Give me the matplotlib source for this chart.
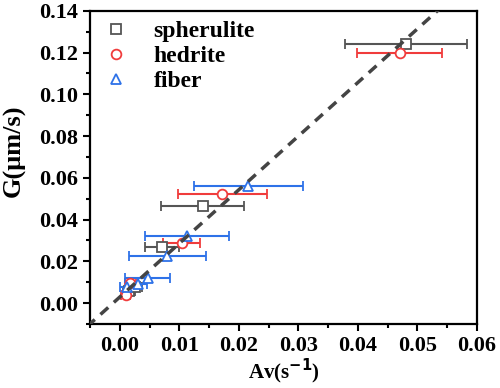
import numpy as np
import matplotlib
matplotlib.use("Agg")
import matplotlib.pyplot as plt
from matplotlib.lines import Line2D

plt.rcParams['font.family'] = ['Liberation Serif', 'DejaVu Serif']
plt.rcParams['font.weight'] = 'bold'
plt.rcParams['mathtext.fontset'] = 'custom'
plt.rcParams['mathtext.rm'] = 'Liberation Serif:bold'

# spherulite
sph_x = [0.0015, 0.0025, 0.0071, 0.0139, 0.0481]
sph_y = [0.006, 0.0075, 0.027, 0.0463, 0.124]
sph_err = [0.0010, 0.0012, 0.0029, 0.0069, 0.0102]

# hedrite
hed_x = [0.0010, 0.0018, 0.0104, 0.0172, 0.0470]
hed_y = [0.004, 0.0095, 0.0287, 0.0525, 0.120]
hed_err = [0.0008, 0.0010, 0.0031, 0.0075, 0.0072]

# fiber
fib_x = [0.0012, 0.0030, 0.0047, 0.0080, 0.0113, 0.0216]
fib_y = [0.0075, 0.0090, 0.0118, 0.0227, 0.0323, 0.0563]
fib_err = [0.0012, 0.0015, 0.0038, 0.0065, 0.0071, 0.0091]

# fitted line
fit_slope = 2.57
fit_icpt = 0.0029

fig = plt.figure(figsize=(5.0, 3.88), dpi=100)
ax = fig.add_axes([0.18, 0.165, 0.774, 0.807])

series = [
    (sph_x, sph_y, sph_err, 's', '#555555', 'spherulite'),
    (hed_x, hed_y, hed_err, 'o', '#f03c3c', 'hedrite'),
    (fib_x, fib_y, fib_err, '^', '#2e72e8', 'fiber'),
]
handles = []
for x, y, e, m, c, lab in series:
    ax.errorbar(x, y, xerr=e, fmt=m, mfc='white', mec=c, ecolor=c, color=c,
                ms=7, mew=1.3, elinewidth=1.5, capsize=3.5, capthick=1.5)
    handles.append(Line2D([], [], ls='none', marker=m, mfc='white', mec=c,
                          ms=7, mew=1.3, label=lab))

xx = np.array([-0.01, 0.07])
ax.plot(xx, fit_slope * xx + fit_icpt, '--', color='#444444', lw=2.5,
        dashes=(3, 2.2), zorder=5)

ax.set_xlim(-0.005, 0.06)
ax.set_ylim(-0.01, 0.14)
ax.set_xticks(np.arange(0, 0.061, 0.01))
ax.set_yticks(np.arange(0, 0.141, 0.02))
ax.set_xticks(np.arange(-0.005, 0.0601, 0.005), minor=True)
ax.set_yticks(np.arange(-0.01, 0.141, 0.01), minor=True)
ax.xaxis.set_major_formatter(matplotlib.ticker.FormatStrFormatter('%.2f'))
ax.yaxis.set_major_formatter(matplotlib.ticker.FormatStrFormatter('%.2f'))
ax.tick_params(which='both', direction='out', top=False, right=False,
               width=1.5, labelsize=16)
ax.tick_params(which='major', length=5)
ax.tick_params(which='minor', length=3)
for s in ax.spines.values():
    s.set_linewidth(1.6)

ax.set_xlabel(r'Av(s$^{\mathbf{-1}}$)', fontsize=15, fontweight='bold', labelpad=1)
ax.set_ylabel(u'G(\u03bcm/s)', fontsize=19, fontweight='bold')
ax.yaxis.set_label_coords(-0.165, 0.553)

ax.legend(handles=handles, loc='upper left', frameon=False, fontsize=17,
          handletextpad=1.0, borderaxespad=0.0, borderpad=0.2,
          labelspacing=0.15, handlelength=1.2, bbox_to_anchor=(0.018, 0.984))

fig.savefig('out.png', dpi=100)
